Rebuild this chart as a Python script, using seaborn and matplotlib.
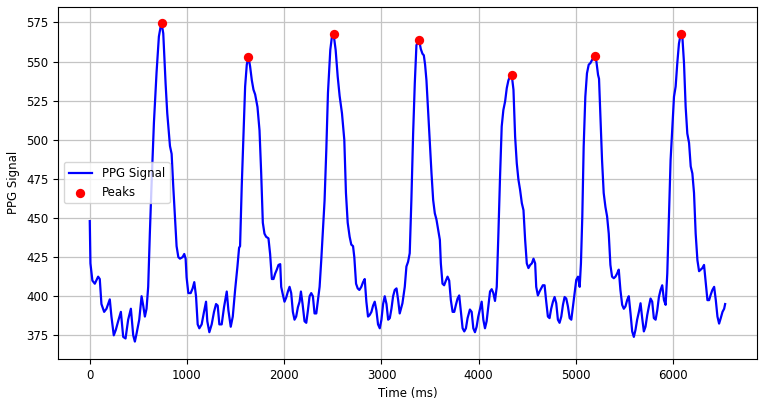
import numpy as np
import pandas as pd
import seaborn as sns
import matplotlib
matplotlib.use("Agg")
import matplotlib.pyplot as plt

# PPG samples (time in ms, signal value)
time_ms = [
    0, 7, 27, 52, 86, 103, 120, 148, 172, 206, 223, 247, 268, 292, 320, 344, 368, 395,
    423, 447, 464, 481, 509, 533, 550, 567, 584, 601, 618, 636, 660, 687, 711, 728, 739,
    756, 780, 797, 825, 842, 859, 876, 893, 911, 928, 955, 972, 986, 996, 1014, 1038,
    1058, 1075, 1093, 1110, 1127, 1151, 1175, 1196, 1209, 1230, 1254, 1278, 1299, 1316,
    1333, 1357, 1381, 1409, 1426, 1450, 1471, 1495, 1519, 1536, 1546, 1563, 1581, 1598,
    1615, 1632, 1649, 1667, 1684, 1701, 1725, 1746, 1763, 1780, 1797, 1814, 1838, 1855,
    1873, 1890, 1907, 1924, 1941, 1959, 1969, 1986, 2003, 2020, 2038, 2055, 2072, 2089,
    2106, 2123, 2141, 2158, 2172, 2189, 2209, 2227, 2244, 2261, 2278, 2295, 2312, 2330,
    2347, 2364, 2381, 2398, 2415, 2433, 2450, 2474, 2491, 2508, 2529, 2550, 2570, 2594,
    2618, 2635, 2653, 2673, 2690, 2708, 2721, 2739, 2756, 2773, 2793, 2811, 2828, 2845,
    2862, 2879, 2897, 2914, 2931, 2948, 2965, 2983, 3000, 3017, 3034, 3052, 3069, 3086,
    3103, 3120, 3137, 3155, 3172, 3188, 3216, 3240, 3257, 3274, 3291, 3308, 3326, 3343,
    3360, 3388, 3405, 3422, 3436, 3449, 3463, 3480, 3498, 3515, 3532, 3549, 3566, 3584,
    3601, 3611, 3628, 3645, 3663, 3680, 3697, 3714, 3732, 3749, 3766, 3783, 3800, 3818,
    3835, 3852, 3869, 3886, 3910, 3928, 3945, 3962, 3979, 3996, 4014, 4031, 4048, 4065,
    4082, 4100, 4117, 4134, 4151, 4168, 4186, 4203, 4220, 4237, 4254, 4272, 4289, 4306,
    4323, 4340, 4358, 4375, 4392, 4409, 4426, 4444, 4461, 4478, 4495, 4512, 4530, 4547,
    4564, 4581, 4592, 4609, 4626, 4643, 4660, 4678, 4695, 4712, 4729, 4746, 4764, 4781,
    4798, 4815, 4832, 4850, 4867, 4884, 4901, 4918, 4936, 4953, 4970, 4987, 5004, 5022,
    5039, 5052, 5066, 5080, 5097, 5114, 5132, 5149, 5166, 5194, 5211, 5228, 5238, 5252,
    5269, 5286, 5304, 5321, 5338, 5355, 5372, 5390, 5407, 5424, 5441, 5458, 5476, 5493,
    5510, 5527, 5544, 5562, 5579, 5596, 5613, 5630, 5648, 5665, 5682, 5699, 5716, 5734,
    5751, 5768, 5785, 5802, 5820, 5837, 5854, 5871, 5888, 5906, 5923, 5940, 5957, 5974,
    5992, 6009, 6026, 6043, 6060, 6078, 6095, 6112, 6129, 6146, 6164, 6181, 6198, 6215,
    6232, 6250, 6267, 6284, 6301, 6318, 6336, 6353, 6370, 6387, 6404, 6422, 6439, 6456,
    6473, 6490, 6508, 6525, 6535,
]
ppg_values = [
    448, 421, 410, 408, 412.5, 411, 395, 390, 392, 398, 387, 375, 378.5, 384, 390, 374,
    373, 385, 392, 375, 371, 376, 385, 400, 394, 387, 392, 406, 440, 472, 511, 543, 566,
    572, 574.5, 568, 536, 517, 496, 491, 470, 451, 432, 425, 424, 425, 427, 424, 412, 402,
    402, 405, 409, 400, 382, 379.5, 382, 390, 396.5, 384, 377, 382, 390, 395, 394, 382,
    382, 393, 403, 391, 380.5, 387, 404, 419, 431, 432, 470, 504, 534, 548, 553, 547, 538,
    532, 529, 521, 506, 479, 447, 440, 438, 437, 427, 411, 411, 414.5, 417, 420, 420.5,
    406, 401, 396.5, 399, 403, 406, 402, 390, 385, 387, 393, 396.5, 403, 395, 384, 383,
    391, 400, 402, 400, 389, 389, 397.5, 406, 423, 442, 461, 493.5, 530, 557.5, 566,
    567.5, 557.5, 540.5, 528, 517, 500, 466, 447, 438, 433, 432, 425, 408, 405, 404, 406,
    409, 411, 396.5, 387, 388, 390, 394, 396.5, 391, 382, 379.5, 385, 395, 400, 395, 385,
    386, 392, 400, 404, 405, 397.5, 389, 395.5, 406, 419, 422, 427.5, 461.5, 504, 536,
    560.5, 563.5, 558, 555, 554, 548, 538, 519, 498, 478.5, 461.5, 453, 449, 442.5, 436,
    421, 408, 407, 410, 412.5, 410, 397.5, 390, 390, 394.5, 398.5, 400.5, 390, 379.5,
    377.5, 379.5, 386, 391.5, 390, 379.5, 377, 380.5, 387, 392, 396.5, 385, 379.5, 384,
    393.5, 403, 404.5, 402, 397, 406, 440, 476.5, 508.5, 519, 524.5, 533, 538, 540.5,
    541.5, 532, 502, 485, 474.5, 468, 459.5, 455, 436, 421, 418, 420, 421, 424, 421, 406,
    400.5, 403, 405, 407, 407, 396.5, 387, 386, 392, 396.5, 399.5, 395.5, 385, 383, 387,
    394.5, 399.5, 398.5, 393.5, 386, 385, 393.5, 402, 410.5, 412.5, 406, 421, 451, 495.5,
    527.5, 542.5, 548, 549, 551, 553.5, 550, 541.5, 539, 515, 487, 466, 457, 451, 440,
    420, 412.5, 411.5, 412.5, 414.5, 417, 404, 394.5, 392, 393.5, 397.5, 400, 389, 377.5,
    374, 378.5, 385, 390, 395.5, 386, 377.5, 380.5, 388, 393.5, 398.5, 396.5, 386, 385,
    391, 399.5, 404, 407, 397.5, 394.5, 414.5, 451, 487, 508.5, 527.5, 534, 549, 561.5,
    567.5, 566, 549, 521, 504, 498, 483, 478.5, 466, 440, 423, 416, 417, 418, 420, 408.5,
    397.5, 397.5, 401, 404, 406, 397.5, 387, 382.5, 386, 390, 392, 395,
]

# detected peaks
peak_times = [739, 1632, 2508, 3388, 4340, 5194, 6078]
peak_values = [574.5, 553, 567.5, 563.5, 541.5, 553.5, 567.5]

signal_df = pd.DataFrame({"Time (ms)": time_ms, "PPG Signal": ppg_values})
peaks_df = pd.DataFrame({"Time (ms)": peak_times, "PPG Signal": peak_values})

plt.rcParams["font.size"] = 8.5

fig = plt.figure(figsize=(7.63, 4.0), dpi=100)
ax = fig.add_axes([0.076, 0.103, 0.916, 0.880])

sns.lineplot(data=signal_df, x="Time (ms)", y="PPG Signal", color="blue",
             linewidth=1.6, estimator=None, sort=False, label="PPG Signal", ax=ax)
sns.scatterplot(data=peaks_df, x="Time (ms)", y="PPG Signal", color="red",
                s=45, linewidth=0, zorder=3, label="Peaks", ax=ax)

ax.set_ylim(360, 585)
ax.grid(True, color="#c4c4c4", linewidth=0.9)
ax.set_xlabel("Time (ms)")
ax.set_ylabel("PPG Signal")
ax.legend(loc="center left")

fig.savefig("out.png", dpi=100)
